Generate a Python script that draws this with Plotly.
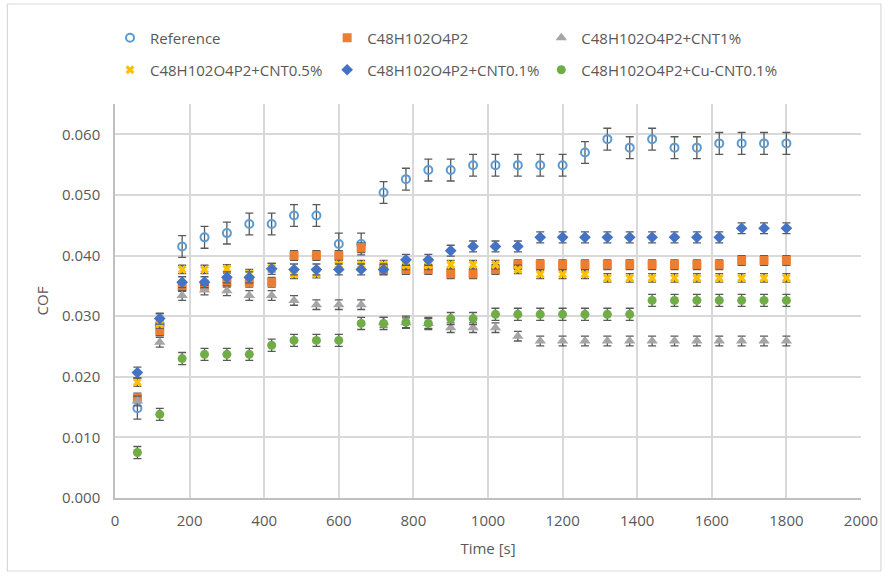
import plotly.graph_objects as go

time_s = [60, 120, 180, 240, 300, 360, 420, 480, 540, 600,
          660, 720, 780, 840, 900, 960, 1020, 1080, 1140, 1200,
          1260, 1320, 1380, 1440, 1500, 1560, 1620, 1680, 1740, 1800]

ref = [0.0148, 0.0286, 0.0415, 0.0430, 0.0437, 0.0452, 0.0452, 0.0466, 0.0466, 0.0419,
       0.0419, 0.0504, 0.0526, 0.0541, 0.0541, 0.0549, 0.0549, 0.0549, 0.0549, 0.0549,
       0.0570, 0.0592, 0.0578, 0.0592, 0.0578, 0.0578, 0.0585, 0.0585, 0.0585, 0.0585]
base = [0.0165, 0.0276, 0.0349, 0.0351, 0.0356, 0.0356, 0.0356, 0.0400, 0.0400, 0.0400,
        0.0413, 0.0377, 0.0377, 0.0377, 0.0370, 0.0370, 0.0377, 0.0385, 0.0385, 0.0385,
        0.0385, 0.0385, 0.0385, 0.0385, 0.0385, 0.0385, 0.0385, 0.0392, 0.0392, 0.0392]
cnt1 = [0.0160, 0.0257, 0.0334, 0.0343, 0.0342, 0.0334, 0.0334, 0.0326, 0.0319, 0.0319,
        0.0319, 0.0290, 0.0289, 0.0288, 0.0281, 0.0281, 0.0281, 0.0267, 0.0259, 0.0259,
        0.0259, 0.0259, 0.0259, 0.0259, 0.0259, 0.0259, 0.0259, 0.0259, 0.0259, 0.0259]
cnt05 = [0.0191, 0.0287, 0.0377, 0.0377, 0.0378, 0.0370, 0.0380, 0.0369, 0.0370, 0.0385,
         0.0385, 0.0385, 0.0384, 0.0384, 0.0385, 0.0385, 0.0385, 0.0377, 0.0369, 0.0369,
         0.0369, 0.0363, 0.0363, 0.0363, 0.0363, 0.0363, 0.0363, 0.0363, 0.0363, 0.0363]
cnt01 = [0.0207, 0.0296, 0.0356, 0.0356, 0.0364, 0.0364, 0.0378, 0.0377, 0.0377, 0.0377,
         0.0377, 0.0377, 0.0393, 0.0393, 0.0408, 0.0415, 0.0415, 0.0415, 0.0430, 0.0430,
         0.0430, 0.0430, 0.0430, 0.0430, 0.0430, 0.0430, 0.0430, 0.0445, 0.0445, 0.0445]
cucnt01 = [0.0075, 0.0138, 0.0230, 0.0237, 0.0237, 0.0237, 0.0252, 0.0260, 0.0260, 0.0260,
           0.0288, 0.0288, 0.0290, 0.0288, 0.0296, 0.0296, 0.0303, 0.0303, 0.0303, 0.0303,
           0.0303, 0.0303, 0.0303, 0.0326, 0.0326, 0.0326, 0.0326, 0.0326, 0.0326, 0.0326]

err_ref = 0.0018
err_base = 0.0008
err_cnt1 = 0.0008
err_cnt05 = 0.0007
err_cnt01 = 0.0009
err_cucnt01 = 0.0010

names = ["Reference", "C48H102O4P2", "C48H102O4P2+CNT1%",
         "C48H102O4P2+CNT0.5%", "C48H102O4P2+CNT0.1%", "C48H102O4P2+Cu-CNT0.1%"]

FONT = "Open Sans"
GREY_TXT = "#595959"
ERR_COL = "#595959"

L, R, T, B = 115, 26, 104, 80
PW, PH = 890 - L - R, 578 - T - B

# legend slots: (text start px, row centre px)
col_text_px = [150, 368, 583]
row_px = [38, 70]
slots = [(col_text_px[0], row_px[0]), (col_text_px[1], row_px[0]), (col_text_px[2], row_px[0]),
         (col_text_px[0], row_px[1]), (col_text_px[1], row_px[1]), (col_text_px[2], row_px[1])]

series = [
    (names[0], ref, err_ref, dict(symbol="circle-open", size=8, color="#5B9BD5", line=dict(width=2, color="#5B9BD5"))),
    (names[1], base, err_base, dict(symbol="square", size=9, color="#ED7D31")),
    (names[2], cnt1, err_cnt1, dict(symbol="triangle-up", size=10, color="#A5A5A5")),
    (names[3], cnt05, err_cnt05, dict(symbol="x", size=8, color="#FFC000")),
    (names[4], cnt01, err_cnt01, dict(symbol="diamond", size=9, color="#4472C4")),
    (names[5], cucnt01, err_cucnt01, dict(symbol="circle", size=9, color="#70AD47")),
]

fig = go.Figure()
legend_layout = {}
for i, (name, ys, err, marker) in enumerate(series):
    lg = "legend" if i == 0 else f"legend{i + 1}"
    fig.add_trace(go.Scatter(
        x=time_s, y=ys, name=name, mode="markers", marker=marker, legend=lg,
        error_y=dict(type="constant", value=err, color=ERR_COL, thickness=1.3, width=4),
    ))
    tx, ty = slots[i]
    legend_layout[lg] = dict(orientation="h", x=(tx - 40 - L) / PW, xanchor="left",
                             y=(578 - B - ty) / PH, yanchor="middle",
                             font=dict(size=15, color=GREY_TXT), bgcolor="rgba(0,0,0,0)")

fig.update_layout(
    width=890, height=578,
    margin=dict(l=L, r=R, t=T, b=B),
    paper_bgcolor="white", plot_bgcolor="white",
    font=dict(family=FONT, size=15, color=GREY_TXT),
    showlegend=True,
    xaxis=dict(range=[0, 2000], tickvals=[0, 200, 400, 600, 800, 1000, 1200, 1400, 1600, 1800, 2000],
               showgrid=True, gridcolor="#D9D9D9", gridwidth=1.5, zeroline=False,
               showline=True, linecolor="#BFBFBF", linewidth=1.5,
               ticks="", ticklabelstandoff=8,
               title=dict(text="Time [s]", standoff=15, font=dict(size=15, color=GREY_TXT))),
    yaxis=dict(range=[0, 0.065], tickvals=[0, 0.01, 0.02, 0.03, 0.04, 0.05, 0.06], tickformat=".3f",
               showgrid=True, gridcolor="#D9D9D9", gridwidth=1.5, zeroline=False,
               showline=True, linecolor="#BFBFBF", linewidth=1.5,
               ticks="", ticklabelstandoff=10,
               title=dict(text="COF", standoff=10, font=dict(size=15, color=GREY_TXT))),
    **legend_layout,
)

# chart-area border
fig.add_shape(type="rect", xref="paper", yref="paper", layer="below",
              x0=(7 - L) / PW, x1=(884 - L) / PW,
              y0=(578 - B - 571) / PH, y1=(578 - B - 4) / PH,
              line=dict(color="#D9D9D9", width=1.2), fillcolor="rgba(0,0,0,0)")

fig.write_html("out.html")
